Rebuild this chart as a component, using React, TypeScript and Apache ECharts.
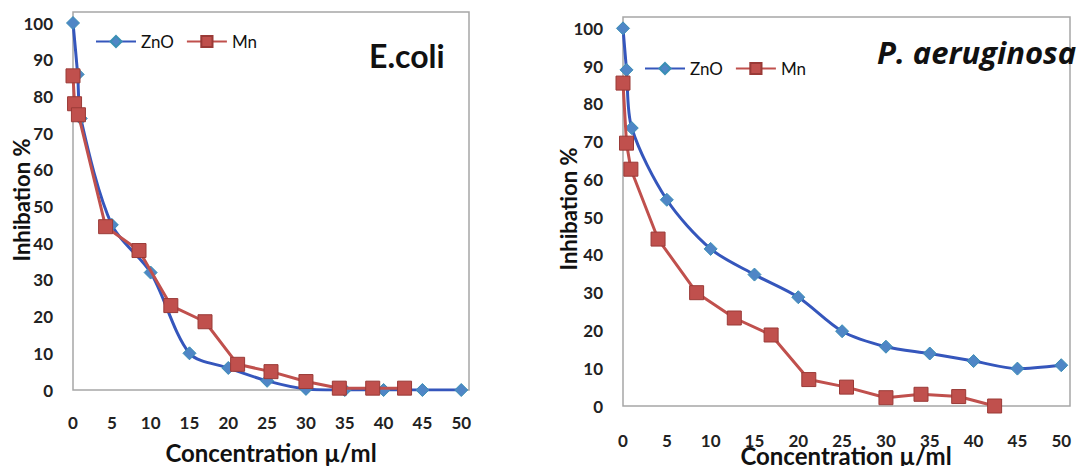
import React, { useEffect, useRef } from "react";
import * as echarts from "echarts";

// ---- data ----
const seriesNames = ["ZnO", "Mn"];
const xTickStep = 5;
const yTickStep = 10;
const xLabelMax = 50;
const yLabelMax = 100;

// E.coli
const ecoliZnOX = [0, 0.6, 1, 5, 10, 15, 20, 25, 30, 35, 40, 45, 50];
const ecoliZnOY = [100, 86, 74, 45, 32, 10, 6, 2.5, 0.3, 0, 0, 0, 0];
const ecoliMnX = [0, 0.2, 0.7, 4.2, 8.5, 12.6, 17, 21.2, 25.5, 30, 34.3, 38.6, 42.7];
const ecoliMnY = [85.6, 78, 75, 44.5, 38, 23, 18.6, 7, 5, 2.3, 0.5, 0.5, 0.5];

// P. aeruginosa
const paZnOX = [0, 0.4, 1, 5, 10, 15, 20, 25, 30, 35, 40, 45, 50];
const paZnOY = [100, 89, 73.6, 54.6, 41.6, 34.8, 28.8, 19.8, 15.7, 13.9, 11.9, 9.9, 10.8];
const paMnX = [0, 0.4, 0.9, 4, 8.4, 12.7, 16.9, 21.2, 25.5, 30, 34, 38.3, 42.4];
const paMnY = [85.5, 69.6, 62.7, 44.2, 30, 23.3, 18.8, 7, 5, 2.2, 3.1, 2.5, 0];

const titles = ["E.coli", "P. aeruginosa"];
const xTitle = "Concentration µ/ml";
const yTitle = "Inhibation %";

const zip = (xs: number[], ys: number[]) => xs.map((x, i) => [x, ys[i]]);

const FONT = "Lato";
const ZNO_LINE = "#3556BC";
const ZNO_FILL = "#4F86C6";
const MN_COLOR = "#C0504D";

export default function App() {
  const ref = useRef<HTMLDivElement>(null);
  useEffect(() => {
    if (!ref.current) return;
    const chart = echarts.init(ref.current, null, { renderer: "svg" });

    const grids = [
      { left: 73, top: 12, width: 396, height: 378 },
      { left: 623, top: 17, width: 447, height: 389 },
    ];

    const xAxisCommon = (i: number) => ({
      type: "value",
      gridIndex: i,
      min: 0,
      max: 51,
      interval: xTickStep,
      axisLine: { show: false },
      axisTick: { show: false },
      splitLine: { show: false },
      axisLabel: {
        margin: i === 0 ? 24 : 26,
        fontFamily: FONT,
        fontSize: 17,
        fontWeight: "bold",
        color: "#222",
        formatter: (v: number) => (v % xTickStep === 0 && v <= xLabelMax ? String(v) : ""),
      },
    });

    const yAxisCommon = (i: number) => ({
      type: "value",
      gridIndex: i,
      min: 0,
      max: 103,
      interval: yTickStep,
      axisLine: { show: false },
      axisTick: { show: false },
      splitLine: { show: false },
      axisLabel: {
        margin: 20,
        fontFamily: FONT,
        fontSize: 17,
        fontWeight: "bold",
        color: "#222",
        formatter: (v: number) => (v % yTickStep === 0 && v <= yLabelMax ? String(v) : ""),
      },
    });

    const znoSeries = (i: number, data: number[][]) => ({
      name: seriesNames[0],
      type: "line",
      xAxisIndex: i,
      yAxisIndex: i,
      data,
      smooth: 0.3,
      symbol: "diamond",
      symbolSize: 13,
      lineStyle: { color: ZNO_LINE, width: 3 },
      itemStyle: { color: ZNO_FILL, borderColor: "#3A8FB4", borderWidth: 1 },
      z: 2,
    });
    const mnSeries = (i: number, data: number[][]) => ({
      name: seriesNames[1],
      type: "line",
      xAxisIndex: i,
      yAxisIndex: i,
      data,
      symbol: "rect",
      symbolSize: 14,
      lineStyle: { color: MN_COLOR, width: 3 },
      itemStyle: { color: MN_COLOR, borderColor: "#9A3A37", borderWidth: 1 },
      z: 3,
    });

    const legendCommon = {
      data: seriesNames,
      orient: "horizontal",
      padding: 0,
      itemWidth: 40,
      itemHeight: 14,
      itemGap: 12,
      textStyle: { fontFamily: FONT, fontSize: 17, color: "#111" },
      selectedMode: false,
    };

    const axisTitleStyle = (size: number) => ({
      fontFamily: FONT,
      fontSize: size,
      fontWeight: "bold",
      fill: "#111",
      align: "center",
      verticalAlign: "middle",
    });

    chart.setOption({
      animation: false,
      backgroundColor: "#ffffff",
      grid: grids.map((g) => ({
        ...g,
        outerBoundsMode: "none",
        containLabel: false,
        show: true,
        borderColor: "#A6A6A6",
        borderWidth: 1.5,
        backgroundColor: "transparent",
      })),
      xAxis: [xAxisCommon(0), xAxisCommon(1)],
      yAxis: [yAxisCommon(0), yAxisCommon(1)],
      legend: [
        { ...legendCommon, left: 95, top: 33 },
        { ...legendCommon, left: 644, top: 60 },
      ],
      series: [
        znoSeries(0, zip(ecoliZnOX, ecoliZnOY)),
        mnSeries(0, zip(ecoliMnX, ecoliMnY)),
        znoSeries(1, zip(paZnOX, paZnOY)),
        mnSeries(1, zip(paMnX, paMnY)),
      ],
      graphic: [
        {
          type: "text",
          left: 369,
          top: 39,
          style: { text: titles[0], fontFamily: FONT, fontSize: 32, fontWeight: "bold", fill: "#111" },
        },
        {
          type: "text",
          left: 877,
          top: 36,
          style: { text: titles[1], fontFamily: "Open Sans", fontSize: 31, fontWeight: "bold", fontStyle: "italic", fill: "#111" },
        },
        { type: "text", x: 271, y: 452, style: { text: xTitle, ...axisTitleStyle(24) } },
        { type: "text", x: 846, y: 455, style: { text: xTitle, ...axisTitleStyle(24) } },
        { type: "text", x: 21, y: 200, rotation: Math.PI / 2, style: { text: yTitle, ...axisTitleStyle(22) } },
        { type: "text", x: 568, y: 209, rotation: Math.PI / 2, style: { text: yTitle, ...axisTitleStyle(22) } },
      ],
    });
    return () => chart.dispose();
  }, []);
  return (
    <div
      ref={ref}
      style={{ position: "fixed", left: 0, top: 0, width: 1081, height: 466, background: "#fff" }}
    />
  );
}
